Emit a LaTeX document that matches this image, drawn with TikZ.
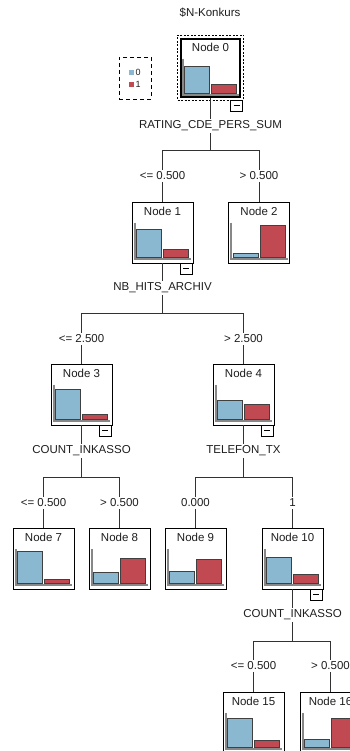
\documentclass[tikz,border=0pt]{standalone}
\usepackage{fontspec}
\setmainfont{Liberation Sans}
\usetikzlibrary{positioning}

\definecolor{barblue}{RGB}{138,184,208}
\definecolor{barred}{RGB}{193,74,82}
\definecolor{axisgrey}{RGB}{135,135,135}
\definecolor{linegrey}{RGB}{50,50,50}
\definecolor{textgrey}{RGB}{30,30,30}

% bar chart inside a tree node: node, blue height, red height
\newcommand{\treebars}[3]{%
\draw[axisline] ([shift={(3,21)}]#1.north west) -- ([shift={(3,57)}]#1.north west) -- ([shift={(-2,57)}]#1.north east);
\draw[bluebar] ([shift={(5,56)}]#1.north west) rectangle ++(25,-#2);
\draw[redbar] ([shift={(32,56)}]#1.north west) rectangle ++(25,-#3);
}
% collapse box under a node
\newcommand{\minusbox}[1]{%
\draw[minusline] ([shift={(-13,0)}]#1.south east) rectangle ([shift={(-1,11)}]#1.south east);
\draw[minusline] ([shift={(-10,5.5)}]#1.south east) -- ([shift={(-4,5.5)}]#1.south east);
}
\newcommand{\swatch}[1]{\textcolor{#1}{\rule{5pt}{5pt}}}

\begin{document}
\begin{tikzpicture}[x=1pt,y=-1pt,
font=\fontsize{11.5}{13}\selectfont, text=textgrey,
treenode/.style={rectangle, draw=black, fill=white, inner sep=0pt, minimum width=61pt, text height=13pt, text depth=48pt},
rootnode/.style={treenode, line width=2.5pt, minimum width=59pt, text depth=45pt},
selbox/.style={rectangle, draw=black, dash pattern=on 2pt off 1.5pt, minimum width=66pt, minimum height=65pt},
legendbox/.style={rectangle, draw=black, dash pattern=on 4pt off 3pt, minimum width=32pt, minimum height=42pt, align=left, font=\fontsize{9}{12}\selectfont},
varlabel/.style={inner sep=2pt},
edgelabel/.style={inner sep=2pt},
edge/.style={draw=linegrey, line width=1pt},
axisline/.style={draw=axisgrey, line width=2pt},
bluebar/.style={draw=black!75, fill=barblue, line width=1pt},
redbar/.style={draw=black!75, fill=barred, line width=1pt},
minusline/.style={draw=black, fill=white, line width=0.8pt},
]
\useasboundingbox (0,0) rectangle (350,751);

%Nodes
\node(title) at (210,13){\$N-Konkurs};
\node[legendbox](lg) at (135,78){\swatch{barblue}\,0\\\swatch{barred}\,1};

\node[rootnode](n0) at (210.5,68){Node 0};
\node[selbox](n0sel) at (210.5,67.5){};

\node[varlabel](v0) at (210.5,126){RATING\_CDE\_PERS\_SUM};
\coordinate(s0) at (210.5,151);
\node[edgelabel](e1) at (162.5,176){<= 0.500};
\node[edgelabel](e2) at (259,176){> 0.500};

\node[treenode](n1) at (162.5,232.5){Node 1};
\node[treenode](n2) at (259,232.5){Node 2};

\node[varlabel](v1) at (162.5,288){NB\_HITS\_ARCHIV};
\coordinate(s1) at (162.5,313.5);
\node[edgelabel](e3) at (81.5,339){<= 2.500};
\node[edgelabel](e4) at (243.5,339){> 2.500};

\node[treenode](n3) at (81.5,394.5){Node 3};
\node[treenode](n4) at (243.5,394.5){Node 4};

\node[varlabel](v3) at (81.5,451){COUNT\_INKASSO};
\node[varlabel](v4) at (243.5,451){TELEFON\_TX};
\coordinate(s3) at (81.5,477);
\coordinate(s4) at (243.5,477);
\node[edgelabel](e7) at (43.5,503){<= 0.500};
\node[edgelabel](e8) at (119.5,503){> 0.500};
\node[edgelabel](e9) at (195.5,503){0.000};
\node[edgelabel](e10) at (292.5,503){1};

\node[treenode](n7) at (43.5,558.5){Node 7};
\node[treenode](n8) at (119.5,558.5){Node 8};
\node[treenode](n9) at (195.5,558.5){Node 9};
\node[treenode](n10) at (292.5,558.5){Node 10};

\node[varlabel](v10) at (292.5,615){COUNT\_INKASSO};
\coordinate(s10) at (292.5,641);
\node[edgelabel](e15) at (253.5,666){<= 0.500};
\node[edgelabel](e16) at (330.5,666){> 0.500};

\node[treenode](n15) at (253.5,722.5){Node 15};
\node[treenode](n16) at (330.5,722.5){Node 16};

%Bars
\treebars{n0}{27}{9}
\treebars{n1}{28}{8}
\treebars{n2}{4}{32}
\treebars{n3}{30}{5}
\treebars{n4}{19}{15}
\treebars{n7}{32}{4}
\treebars{n8}{11}{25}
\treebars{n9}{12}{24}
\treebars{n10}{26}{9}
\treebars{n15}{29}{7}
\treebars{n16}{8}{29}

\minusbox{n0sel}
\minusbox{n1}
\minusbox{n3}
\minusbox{n4}
\minusbox{n10}

%Lines
\draw[edge] (n0) -- (v0);
\draw[edge] (v0) -- (s0);
\draw[edge] (s0) -| (e1);
\draw[edge] (s0) -| (e2);
\draw[edge] (e1) -- (n1);
\draw[edge] (e2) -- (n2);

\draw[edge] (n1) -- (v1);
\draw[edge] (v1) -- (s1);
\draw[edge] (s1) -| (e3);
\draw[edge] (s1) -| (e4);
\draw[edge] (e3) -- (n3);
\draw[edge] (e4) -- (n4);

\draw[edge] (n3) -- (v3);
\draw[edge] (v3) -- (s3);
\draw[edge] (s3) -| (e7);
\draw[edge] (s3) -| (e8);
\draw[edge] (e7) -- (n7);
\draw[edge] (e8) -- (n8);

\draw[edge] (n4) -- (v4);
\draw[edge] (v4) -- (s4);
\draw[edge] (s4) -| (e9);
\draw[edge] (s4) -| (e10);
\draw[edge] (e9) -- (n9);
\draw[edge] (e10) -- (n10);

\draw[edge] (n10) -- (v10);
\draw[edge] (v10) -- (s10);
\draw[edge] (s10) -| (e15);
\draw[edge] (s10) -| (e16);
\draw[edge] (e15) -- (n15);
\draw[edge] (e16) -- (n16);

\end{tikzpicture}
\end{document}
